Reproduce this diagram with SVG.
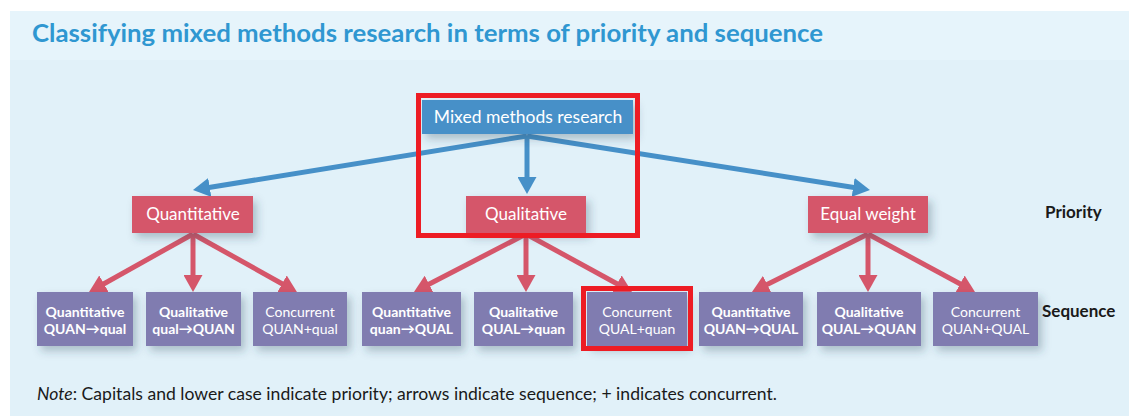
<svg xmlns="http://www.w3.org/2000/svg" width="1129" height="416" viewBox="0 0 1129 416">
<defs>
<style>
.bg{fill:#e1f1f9}
.hdr{fill:#e6f4fb}
.title{font-family:Lato,"Open Sans",sans-serif;font-weight:bold;font-size:24px;fill:#2f97d1}
.top{fill:#4690c8}
.pri{fill:#d5566a}
.seq{fill:#807cb0}
.wt{font-family:Lato,"Open Sans",sans-serif;fill:#ffffff;text-anchor:middle}
.lbl{font-family:Lato,"Open Sans",sans-serif;font-weight:bold;font-size:17px;fill:#1a1a1a}
.note{font-family:Lato,"Open Sans",sans-serif;font-size:16.5px;fill:#1a1a1a}
.b{font-weight:bold}
.blue{stroke:#4690c8;stroke-width:5;fill:none}
.red{stroke:#d5566a;stroke-width:5;fill:none}
.hl{fill:none;stroke:#ed1c24;stroke-width:5}
</style>
<filter id="sh" x="-20%" y="-30%" width="150%" height="170%">
<feDropShadow dx="4" dy="5" stdDeviation="4" flood-color="#2a4a5a" flood-opacity="0.3"/>
</filter>
<marker id="ab" markerUnits="userSpaceOnUse" markerWidth="17" markerHeight="19" viewBox="0 0 17 19" refX="4" refY="9.5" orient="auto">
<path d="M0,0 L17,9.5 L0,19 z" fill="#4690c8"/>
</marker>
<marker id="ar" markerUnits="userSpaceOnUse" markerWidth="17" markerHeight="19" viewBox="0 0 17 19" refX="4" refY="9.5" orient="auto">
<path d="M0,0 L17,9.5 L0,19 z" fill="#d5566a"/>
</marker>
</defs>
<rect x="0" y="0" width="1129" height="416" fill="#ffffff"/>
<rect class="bg" x="10" y="11" width="1119" height="405"/>
<rect class="hdr" x="10" y="11" width="1119" height="49"/>
<text class="title" x="32" y="42" textLength="791" lengthAdjust="spacingAndGlyphs">Classifying mixed methods research in terms of priority and sequence</text>

<g id="connectors">
<path class="blue" d="M527,136 L205.8,188" marker-end="url(#ab)"/>
<path class="blue" d="M527,136 L527,181" marker-end="url(#ab)"/>
<path class="blue" d="M527,136 L857.1,188" marker-end="url(#ab)"/>
<path class="red" d="M193,234 L100.4,285.7" marker-end="url(#ar)"/>
<path class="red" d="M193,234 L193,279" marker-end="url(#ar)"/>
<path class="red" d="M193,234 L285.6,285.7" marker-end="url(#ar)"/>
<path class="red" d="M526,234 L425.5,286" marker-end="url(#ar)"/>
<path class="red" d="M526,234 L526,279" marker-end="url(#ar)"/>
<path class="red" d="M526,234 L620.6,285.7" marker-end="url(#ar)"/>
<path class="red" d="M868,234 L763.6,286.2" marker-end="url(#ar)"/>
<path class="red" d="M868,234 L868,279" marker-end="url(#ar)"/>
<path class="red" d="M868,234 L963.6,285.8" marker-end="url(#ar)"/>
</g>

<g id="mixed">
<rect class="top" x="422" y="100" width="211" height="34" filter="url(#sh)"/>
<text class="wt" x="528" y="123" font-size="17.5">Mixed methods research</text>
</g>

<g id="quantitative">
<rect class="pri" x="132" y="196" width="121" height="37" filter="url(#sh)"/>
<text class="wt" x="193" y="220" font-size="17">Quantitative</text>
</g>
<g id="qualitative">
<rect class="pri" x="466" y="196" width="120" height="37" filter="url(#sh)"/>
<text class="wt" x="526" y="220" font-size="17">Qualitative</text>
</g>
<g id="equal">
<rect class="pri" x="808" y="196" width="120" height="37" filter="url(#sh)"/>
<text class="wt" x="868" y="220" font-size="17">Equal weight</text>
</g>

<g id="s1">
<rect class="seq" x="37" y="292" width="96" height="54" filter="url(#sh)"/>
<text class="wt b" x="85" y="317" font-size="14">Quantitative</text>
<text class="wt b" x="85" y="334" font-size="14">QUAN→qual</text>
</g>
<g id="s2">
<rect class="seq" x="146" y="292" width="95" height="54" filter="url(#sh)"/>
<text class="wt b" x="193.5" y="317" font-size="14">Qualitative</text>
<text class="wt b" x="193.5" y="334" font-size="14">qual→QUAN</text>
</g>
<g id="s3">
<rect class="seq" x="253" y="292" width="94" height="54" filter="url(#sh)"/>
<text class="wt" x="300" y="317" font-size="14">Concurrent</text>
<text class="wt" x="300" y="334" font-size="14">QUAN+qual</text>
</g>
<g id="s4">
<rect class="seq" x="362" y="292" width="99" height="54" filter="url(#sh)"/>
<text class="wt b" x="411.5" y="317" font-size="14">Quantitative</text>
<text class="wt b" x="411.5" y="334" font-size="14">quan→QUAL</text>
</g>
<g id="s5">
<rect class="seq" x="474" y="292" width="99" height="54" filter="url(#sh)"/>
<text class="wt b" x="523.5" y="317" font-size="14">Qualitative</text>
<text class="wt b" x="523.5" y="334" font-size="14">QUAL→quan</text>
</g>
<g id="s6">
<rect class="seq" x="587" y="292" width="100" height="54" filter="url(#sh)"/>
<text class="wt" x="637" y="317" font-size="14">Concurrent</text>
<text class="wt" x="637" y="334" font-size="14">QUAL+quan</text>
</g>
<g id="s7">
<rect class="seq" x="699" y="292" width="104" height="54" filter="url(#sh)"/>
<text class="wt b" x="751" y="317" font-size="14">Quantitative</text>
<text class="wt b" x="751" y="334" font-size="14">QUAN→QUAL</text>
</g>
<g id="s8">
<rect class="seq" x="817" y="292" width="104" height="54" filter="url(#sh)"/>
<text class="wt b" x="869" y="317" font-size="14">Qualitative</text>
<text class="wt b" x="869" y="334" font-size="14">QUAL→QUAN</text>
</g>
<g id="s9">
<rect class="seq" x="933" y="292" width="105" height="54" filter="url(#sh)"/>
<text class="wt" x="985.5" y="317" font-size="14">Concurrent</text>
<text class="wt" x="985.5" y="334" font-size="14">QUAN+QUAL</text>
</g>

<g id="highlights">
<rect class="hl" x="418.5" y="95.5" width="219" height="140"/>
<rect class="hl" x="583.5" y="288.5" width="107" height="60"/>
</g>

<text class="lbl" x="1045" y="218">Priority</text>
<text class="lbl" x="1042" y="317">Sequence</text>

<text class="note" x="37" y="400" textLength="740" lengthAdjust="spacingAndGlyphs"><tspan font-style="italic">Note</tspan>: Capitals and lower case indicate priority; arrows indicate sequence; + indicates concurrent.</text>
</svg>
